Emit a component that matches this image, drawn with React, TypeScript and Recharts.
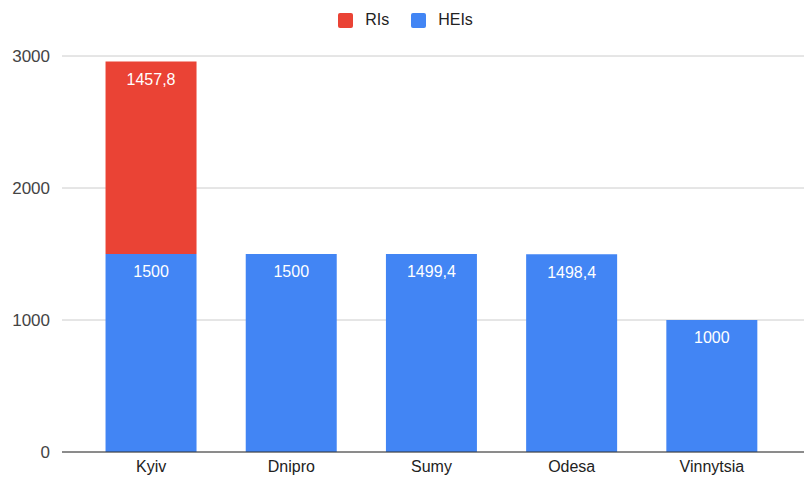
import React from 'react';
import { BarChart, Bar, XAxis, YAxis, CartesianGrid, Legend, LabelList } from 'recharts';

const categories = ['Kyiv', 'Dnipro', 'Sumy', 'Odesa', 'Vinnytsia'];
const heis = [1500, 1500, 1499.4, 1498.4, 1000];
const ris: (number | null)[] = [1457.8, null, null, null, null];
const yTicks = [0, 1000, 2000, 3000];

const RED = '#EA4335';
const BLUE = '#4285F4';
const FONT = '"Liberation Sans", Arial, sans-serif';

const data = categories.map((c, i) => ({ city: c, HEIs: heis[i], RIs: ris[i] }));

const fmt = (v: any) => (v === null || v === undefined ? '' : String(v).replace('.', ','));

const LegendContent = () => (
  <div style={{ display: 'flex', justifyContent: 'center', alignItems: 'center', height: 18, gap: 22, fontFamily: FONT, fontSize: 16, color: '#222', lineHeight: '18px' }}>
    {[
      { name: 'RIs', color: RED },
      { name: 'HEIs', color: BLUE },
    ].map((it) => (
      <div key={it.name} style={{ display: 'flex', alignItems: 'center' }}>
        <span style={{ width: 15, height: 15, borderRadius: 2, background: it.color, display: 'inline-block', marginRight: 12 }} />
        <span>{it.name}</span>
      </div>
    ))}
  </div>
);

export default function App() {
  return (
    <div style={{ position: 'absolute', left: 0, top: 0, background: '#fff' }}>
      <BarChart
        width={811}
        height={483}
        data={data}
        margin={{ top: 38, right: 7, bottom: 0, left: 0 }}
        barCategoryGap="17.5%"
      >
        <CartesianGrid vertical={false} stroke="#cccccc" />
        <Legend
          verticalAlign="top"
          content={<LegendContent />}
          wrapperStyle={{ top: 11, left: 0, width: 811 }}
        />
        <XAxis
          dataKey="city"
          height={31}
          tickLine={false}
          tickSize={0}
          tickMargin={9}
          axisLine={{ stroke: '#333333' }}
          padding={{ left: 19, right: 22 }}
          tick={{ fontFamily: FONT, fontSize: 16, fill: '#222' }}
        />
        <YAxis
          width={62}
          domain={[0, 3000]}
          ticks={yTicks}
          tickLine={false}
          tickSize={8}
          tickMargin={4}
          axisLine={false}
          tick={{ fontFamily: FONT, fontSize: 17, fill: '#444' }}
        />
        <Bar dataKey="HEIs" stackId="a" fill={BLUE} isAnimationActive={false}>
          <LabelList dataKey="HEIs" position="insideTop" offset={12} fill="#fff" formatter={fmt} style={{ fontFamily: FONT, fontSize: 16 }} />
        </Bar>
        <Bar dataKey="RIs" stackId="a" fill={RED} isAnimationActive={false}>
          <LabelList dataKey="RIs" position="insideTop" offset={12} fill="#fff" formatter={fmt} style={{ fontFamily: FONT, fontSize: 16 }} />
        </Bar>
      </BarChart>
    </div>
  );
}
